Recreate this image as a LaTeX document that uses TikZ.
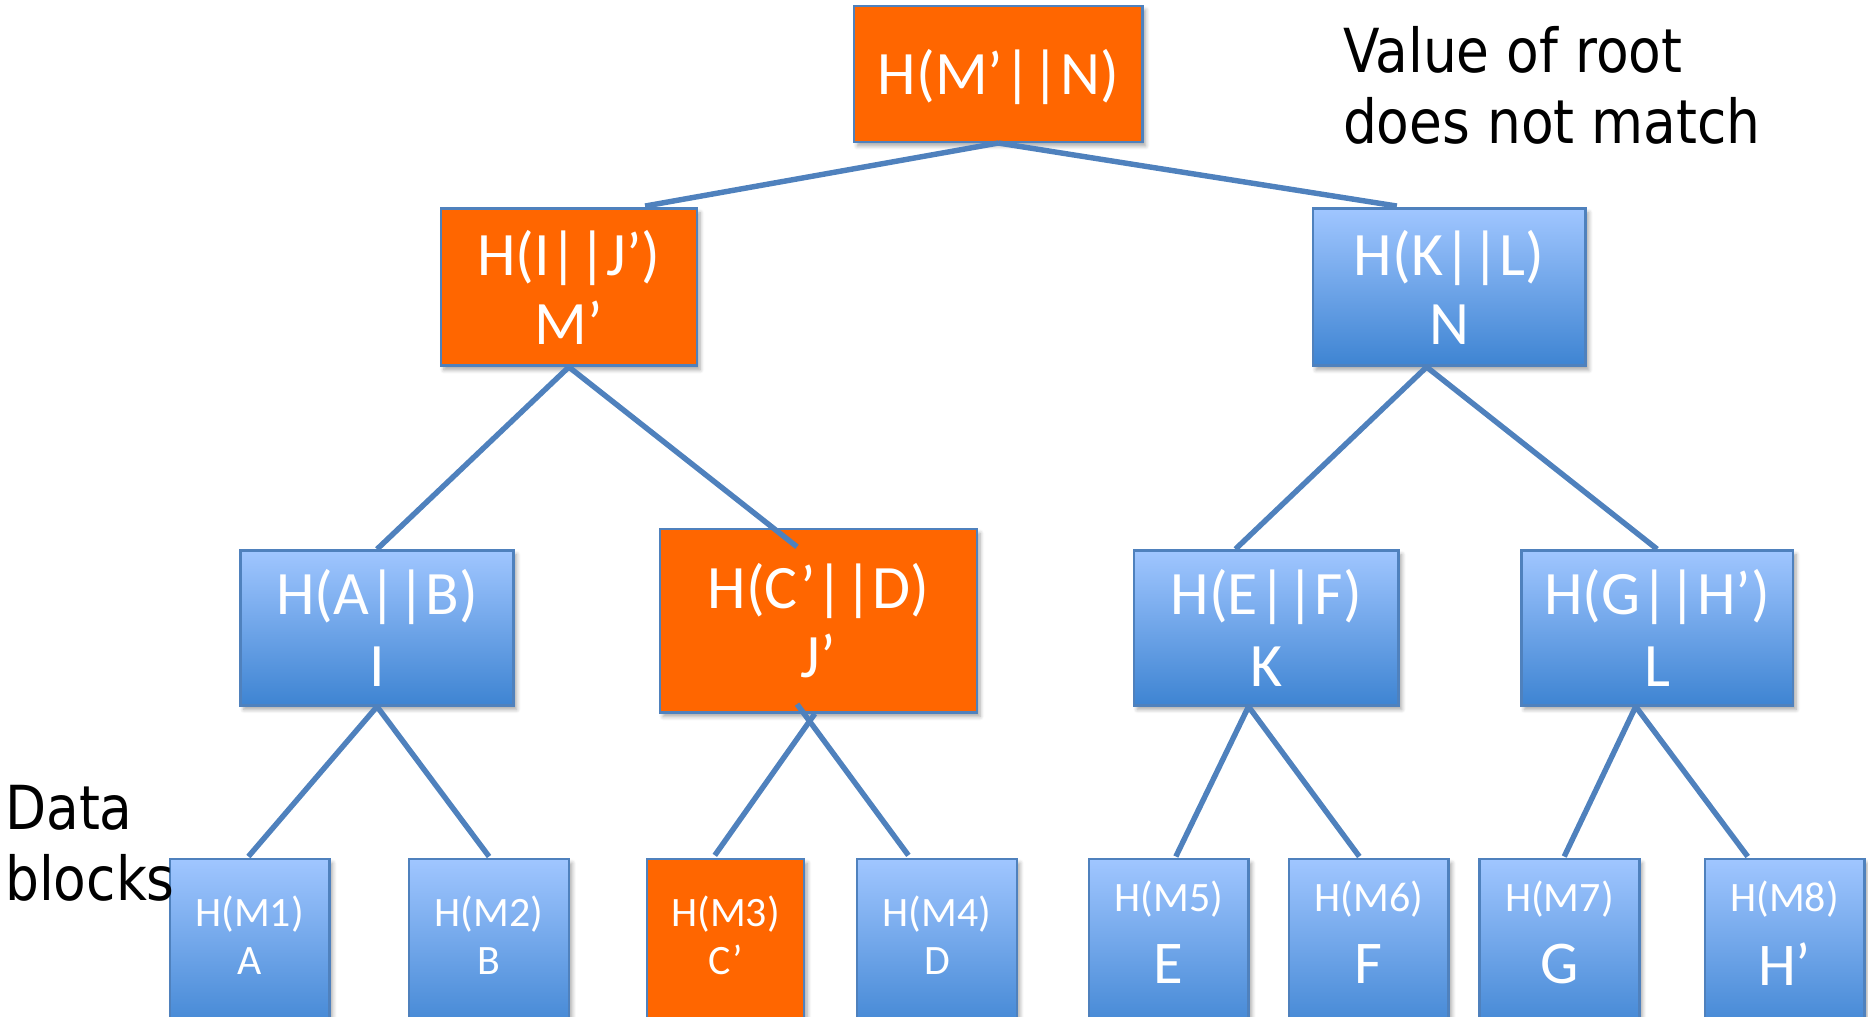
\documentclass[tikz,border=0pt]{standalone}
\usepackage{fontspec}
\setmainfont{Carlito}
\newfontfamily\notefont[FakeStretch=0.88]{DejaVu Sans}
\usetikzlibrary{calc,shadows.blur}
\definecolor{hashorange}{RGB}{255,102,0}
\definecolor{edgeblue}{RGB}{79,129,189}
\definecolor{boxtop}{RGB}{160,198,255}
\definecolor{boxbot}{RGB}{62,132,210}
\begin{document}
\begin{tikzpicture}[x=0.02cm,y=-0.02cm,
  hashbox/.style={rectangle, draw=edgeblue, line width=1.2pt, inner sep=0pt,
    text=white, align=center, font=\fontsize{29.5}{33}\selectfont,
    blur shadow={shadow xshift=1.5pt, shadow yshift=-2pt, shadow blur steps=6, shadow opacity=35}},
  badbox/.style={hashbox, fill=hashorange},
  goodbox/.style={hashbox, top color=boxtop, bottom color=boxbot},
  leafgood/.style={goodbox, minimum width=2.68cm, minimum height=3cm},
  leafbad/.style={badbox, minimum width=2.64cm, minimum height=3cm},
  smalltxt/.style={text=white, align=center, inner sep=0pt, font=\fontsize{20}{23.2}\selectfont},
  bigtxt/.style={text=white, inner sep=0pt, font=\fontsize{29}{33}\selectfont},
  note/.style={align=left, inner sep=0pt, font=\notefont\fontsize{29}{34}\selectfont},
  link/.style={draw=edgeblue, line width=2.6pt}]
\useasboundingbox (0,0) rectangle (1568,853);
\clip (0,0) rectangle (1568,853);

% root and inner hash nodes
\node[badbox, minimum width=4.84cm, minimum height=2.28cm] (root) at (838,62) {};
\node[text=white, inner sep=0pt, font=\fontsize{29.5}{33}\selectfont] (rootlabel) at (838,65) {H(M’||N)};
\node[badbox, minimum width=4.3cm, minimum height=2.64cm] (Mp) at (477.5,241) {H(I||J’)\\M’};
\node[goodbox, minimum width=4.58cm, minimum height=2.64cm] (N) at (1216.5,241) {H(K||L)\\N};
\node[goodbox, minimum width=4.58cm, minimum height=2.6cm, font=\fontsize{29.5}{34}\selectfont] (I) at (316.5,527) {H(A||B)\\I};
\node[badbox, minimum width=5.32cm, minimum height=3.08cm] (Jp) at (687,521) {H(C’||D)\\J’};
\node[goodbox, minimum width=4.44cm, minimum height=2.6cm, font=\fontsize{29.5}{34}\selectfont] (K) at (1063,527) {H(E||F)\\K};
\node[goodbox, minimum width=4.56cm, minimum height=2.6cm, font=\fontsize{29.5}{34}\selectfont] (L) at (1391,527) {H(G||H’)\\L};

% data block leaves
\node[leafgood] (A) at (209.5,796) {};
\node[leafgood] (B) at (410.5,796) {};
\node[leafbad]  (Cp) at (609,796) {};
\node[leafgood] (D) at (786.5,796) {};
\node[leafgood] (E) at (981,796) {};
\node[leafgood] (F) at (1149,796) {};
\node[leafgood] (G) at (1309,796) {};
\node[leafgood] (Hp) at (1498,796) {};

\node[smalltxt] (tA) at (209.5,785) {H(M1)\\A};
\node[smalltxt] (tB) at (410.5,785) {H(M2)\\B};
\node[smalltxt] (tC) at (609,785) {H(M3)\\C’};
\node[smalltxt] (tD) at (786.5,785) {H(M4)\\D};
\node[smalltxt] (tE1) at (981,755) {H(M5)};
\node[smalltxt] (tF1) at (1149,755) {H(M6)};
\node[smalltxt] (tG1) at (1309,755) {H(M7)};
\node[smalltxt] (tH1) at (1498,755) {H(M8)};
\node[bigtxt] (tE2) at (981,809) {E};
\node[bigtxt] (tF2) at (1149,809) {F};
\node[bigtxt] (tG2) at (1309,809) {G};
\node[bigtxt] (tH2) at (1498,809) {H’};

% tree edges
\draw[link] (root.south) -- ($(Mp.north)+(64,-1)$);
\draw[link] (root.south) -- ($(N.north)+(-44,-1)$);
\draw[link] (Mp.south) -- (I.north);
\draw[link] (Mp.south) -- ($(Jp.north)+(-18,16)$);
\draw[link] ($(N.south)+(-19,0)$) -- ($(K.north)+(-26,0)$);
\draw[link] ($(N.south)+(-19,0)$) -- (L.north);
\draw[link] (I.south) -- ($(A.north)+(-1,-1)$);
\draw[link] (I.south) -- ($(B.north)+(0,-1)$);
\draw[link] ($(Jp.south)+(-3,0)$) -- ($(Cp.north)+(-9,-2)$);
\draw[link] ($(Jp.south)+(-18,-8)$) -- ($(D.north)+(-24,-2)$);
\draw[link] ($(K.south)+(-15,0)$) -- ($(E.north)+(6,-1)$);
\draw[link] ($(K.south)+(-15,0)$) -- ($(F.north)+(-8,-1)$);
\draw[link] ($(L.south)+(-18,0)$) -- ($(G.north)+(4,-1)$);
\draw[link] ($(L.south)+(-18,0)$) -- ($(Hp.north)+(-31,-1)$);

% annotations
\node[note, anchor=west] (rootnote) at (1127,72) {Value of root\\does not match};
\node[note, anchor=west] (datanote) at (4,708) {Data\\blocks};
\end{tikzpicture}
\end{document}
